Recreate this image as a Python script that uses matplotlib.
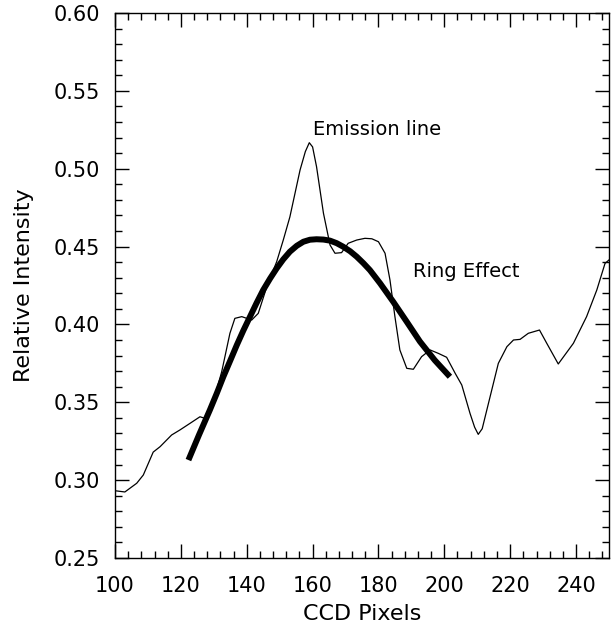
import matplotlib
matplotlib.use("Agg")
import matplotlib.pyplot as plt
from matplotlib.ticker import MultipleLocator

# observed spectrum (thin line)
pix = [100, 103.0, 106.6, 108.6, 111.6, 113.7, 117.2, 119.7, 122.8, 125.8,
       127.3, 128.8, 130.6, 132.4, 134.9, 136.4, 138.5, 141.5, 143.5, 146.1,
       149.1, 151.1, 153.1, 156.2, 157.8, 159.0, 160.0, 161.2, 163.3, 165.3,
       166.8, 168.8, 170.8, 173.4, 175.9, 178.0, 180.0, 182.0, 183.5, 185.0,
       186.5, 188.6, 190.6, 193.1, 195.7, 198.2, 200.7, 203.3, 205.3, 207.8,
       209.2, 210.3, 211.5, 212.9, 216.4, 219.0, 221.0, 223.0, 225.5, 228.9,
       231.1, 234.6, 239.2, 243.2, 246.3, 248.8, 250]
intensity = [0.2932, 0.2924, 0.2980, 0.3033, 0.3180, 0.3215, 0.3290, 0.3322, 0.3365, 0.3407,
             0.3397, 0.3439, 0.3560, 0.3696, 0.3943, 0.4039, 0.4050, 0.4028, 0.4071, 0.4242,
             0.4403, 0.4542, 0.4690, 0.4992, 0.5110, 0.5167, 0.5140, 0.5013, 0.4714, 0.4510,
             0.4457, 0.4461, 0.4521, 0.4542, 0.4553, 0.4550, 0.4531, 0.4457, 0.4285, 0.4050,
             0.3836, 0.3718, 0.3712, 0.3793, 0.3836, 0.3814, 0.3789, 0.3686, 0.3611, 0.3429,
             0.3340, 0.3294, 0.3330, 0.3450, 0.3750, 0.3857, 0.3900, 0.3904, 0.3943, 0.3964,
             0.3879, 0.3746, 0.3879, 0.4050, 0.4221, 0.4392, 0.4414]

# ring effect fit (thick line)
fit_pix = [122.3, 125.5, 128.8, 130.9, 132.9, 135.0, 137.0, 139.0, 141.0, 143.0,
           145.0, 147.1, 149.1, 151.1, 153.1, 155.2, 157.2, 159.2, 161.2, 163.3,
           165.3, 167.3, 169.3, 171.4, 173.4, 175.4, 177.4, 180.5, 184.5, 188.5,
           192.6, 197.1, 201.7]
fit_int = [0.3129, 0.3290, 0.3450, 0.3557, 0.3664, 0.3768, 0.3868, 0.3962, 0.4050, 0.4138,
           0.4221, 0.4295, 0.4360, 0.4418, 0.4467, 0.4505, 0.4531, 0.4544, 0.4547, 0.4545,
           0.4538, 0.4522, 0.4499, 0.4470, 0.4435, 0.4394, 0.4349, 0.4264, 0.4145, 0.4020,
           0.3890, 0.3770, 0.3664]

plt.rcParams['font.family'] = 'DejaVu Sans'

fig = plt.figure(figsize=(6.11, 6.31), dpi=100)
ax = fig.add_axes([0.1882, 0.1157, 0.8085, 0.8637])

ax.plot(pix, intensity, color='black', linewidth=0.9)
ax.plot(fit_pix, fit_int, color='black', linewidth=4.3, solid_capstyle='butt')

ax.text(160.1, 0.525, "Emission line", fontsize=14, va='center', ha='left')
ax.text(190.5, 0.434, "Ring Effect", fontsize=14, va='center', ha='left')

ax.set_xlim(100, 250)
ax.set_ylim(0.25, 0.60)
ax.xaxis.set_major_locator(MultipleLocator(20))
ax.xaxis.set_minor_locator(MultipleLocator(4))
ax.yaxis.set_major_locator(MultipleLocator(0.05))
ax.yaxis.set_minor_locator(MultipleLocator(0.01))
ax.yaxis.set_major_formatter(plt.FormatStrFormatter('%.2f'))

ax.tick_params(which='both', direction='in', top=True, right=True, width=1,
               labelsize=15)
ax.tick_params(axis='y', which='both', pad=11)
ax.tick_params(axis='x', which='both', pad=13)
ax.tick_params(which='major', length=10)
ax.tick_params(which='minor', length=5)
for s in ax.spines.values():
    s.set_linewidth(1)

ax.set_xlabel("CCD Pixels", fontsize=16, labelpad=6)
ax.set_ylabel("Relative Intensity", fontsize=16, labelpad=14)

plt.savefig("out.png", dpi=100)
